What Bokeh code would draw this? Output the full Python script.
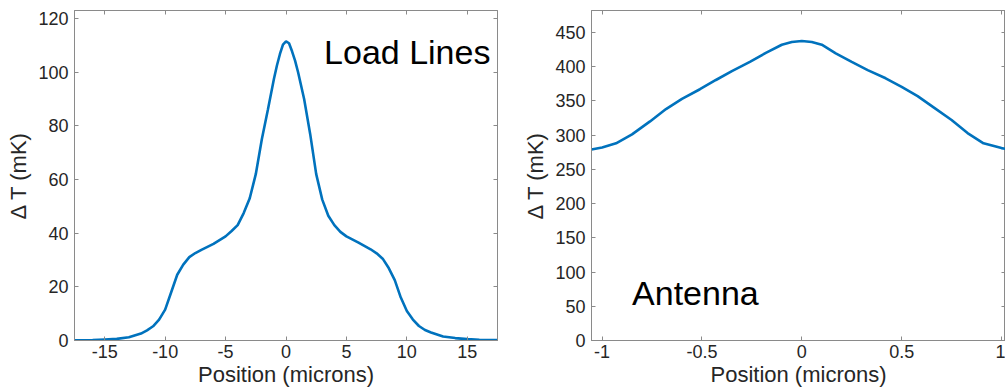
from bokeh.plotting import figure
from bokeh.models import Range1d, LinearAxis, FixedTicker, Label, CustomJSTickFormatter
from bokeh.layouts import row
from bokeh.embed import file_html
from bokeh.resources import INLINE

# ---- Data: Load Lines panel ----
load_x = [-17.5, -16, -15, -14, -13, -12, -11.5, -11, -10.5, -10, -9.5, -9, -8.5, -8,
          -7.5, -7, -6, -5, -4.5, -4, -3.5, -3, -2.5, -2, -1.5, -1, -0.75, -0.5, -0.25, 0,
          0.25, 0.5, 0.75, 1, 1.5, 2, 2.5, 3, 3.5, 4, 4.5, 5, 6, 7, 7.5, 8, 8.5, 9, 9.5,
          10, 10.5, 11, 11.5, 12, 13, 14, 15, 16, 17.5]
load_y = [0.1, 0.2, 0.4, 0.6, 1.2, 2.6, 3.8, 5.3, 7.8, 11.5, 18.0, 24.5, 28.3, 31.1,
          32.6, 33.8, 36.0, 38.8, 40.8, 43.0, 47.5, 53.0, 62.0, 75.0, 86.0, 97.5, 102.5, 106.8, 110.3, 111.5,
          110.8, 107.8, 104.3, 100.0, 90.0, 77.0, 62.0, 52.5, 46.5, 43.0, 40.5, 38.8, 36.5, 34.0, 32.5, 30.5, 27.0, 22.5, 16.0,
          11.0, 7.8, 5.4, 3.9, 3.0, 1.5, 0.9, 0.5, 0.3, 0.2]

# ---- Data: Antenna panel ----
ant_x = [-1.053, -1.0, -0.93, -0.85, -0.76, -0.68, -0.6, -0.51, -0.43, -0.35, -0.26, -0.18,
         -0.1, -0.05, 0.0, 0.05, 0.1, 0.17, 0.25, 0.33, 0.42, 0.5, 0.58, 0.66, 0.75,
         0.83, 0.91, 1.0, 1.02]
ant_y = [279, 282, 288, 301, 320, 338, 353, 367, 380.5, 393.5, 407, 420,
         432, 436, 437.5, 436, 432, 419.5, 407, 395, 383, 370.5, 357, 340.5, 322,
         303, 288, 281, 280]

load_xticks = [-15, -10, -5, 0, 5, 10, 15]
load_yticks = [0, 20, 40, 60, 80, 100, 120]
ant_xticks = [-1, -0.5, 0, 0.5, 1]
ant_yticks = [0, 50, 100, 150, 200, 250, 300, 350, 400, 450]

FONT = "Liberation Sans"
FRAME = "#8a8a8a"
TXT = "#262626"
LINE = "#0072BD"


def style_axis(ax, ticks, labels=True):
    ax.ticker = FixedTicker(ticks=ticks)
    ax.axis_line_color = FRAME
    ax.major_tick_line_color = FRAME
    ax.major_tick_in = 4
    ax.major_tick_out = 0
    ax.minor_tick_line_color = None
    if labels:
        ax.formatter = CustomJSTickFormatter(code="return tick.toString();")
        ax.major_label_text_font = FONT
        ax.major_label_text_font_size = "18px"
        ax.major_label_text_color = TXT
        ax.axis_label_text_font = FONT
        ax.axis_label_text_font_size = "22px"
        ax.axis_label_text_font_style = "normal"
        ax.axis_label_text_color = TXT
    else:
        ax.formatter = CustomJSTickFormatter(code="return '';")
        ax.major_label_standoff = 0
        ax.axis_label = None


def make_fig(width, xr, yr, xticks, yticks, bl, br):
    p = figure(width=width, height=389, x_range=Range1d(*xr), y_range=Range1d(*yr),
               output_backend="svg", toolbar_location=None,
               min_border_left=bl, min_border_right=br, min_border_top=10, min_border_bottom=48)
    p.grid.visible = False
    p.outline_line_color = FRAME
    p.background_fill_color = "white"
    p.border_fill_color = "white"
    style_axis(p.xaxis[0], xticks)
    style_axis(p.yaxis[0], yticks)
    p.xaxis[0].axis_label = "Position (microns)"
    p.yaxis[0].axis_label = "\u0394 T (mK)"
    p.xaxis[0].major_label_standoff = 4
    p.xaxis[0].axis_label_standoff = 1
    p.yaxis[0].major_label_standoff = 6
    p.yaxis[0].axis_label_standoff = 4
    top = LinearAxis()
    style_axis(top, xticks, labels=False)
    p.add_layout(top, "above")
    right = LinearAxis()
    style_axis(right, yticks, labels=False)
    p.add_layout(right, "right")
    return p


p1 = make_fig(520, (-17.5, 17.5), (0, 123), load_xticks, load_yticks, 74, 23)
p1.line(load_x, load_y, line_color=LINE, line_width=2.6)
p1.add_layout(Label(x=3.15, y=107.5, text="Load Lines", text_font=FONT, text_font_size="34px",
                    text_color="black", text_baseline="alphabetic", text_align="left"))

p2 = make_fig(485, (-1.053, 1.02), (0, 482), ant_xticks, ant_yticks, 69, 0)
p2.line(ant_x, ant_y, line_color=LINE, line_width=2.6)
p2.add_layout(Label(x=-0.85, y=70, text="Antenna", text_font=FONT, text_font_size="34px",
                    text_color="black", text_baseline="alphabetic", text_align="left"))

layout = row(p1, p2)
open("out.html", "w").write(file_html(layout, INLINE))
